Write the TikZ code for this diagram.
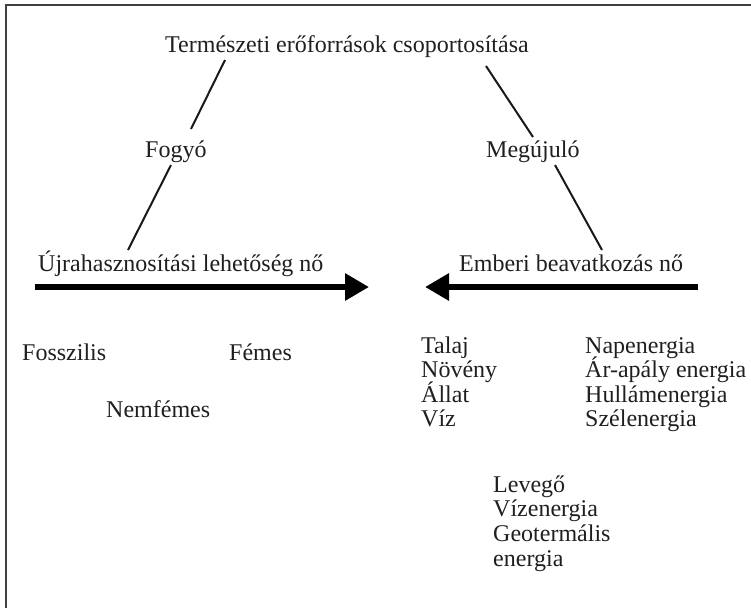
\documentclass[tikz,border=0pt]{standalone}
\usepackage{fontspec}
\setmainfont{Liberation Serif}
\usetikzlibrary{arrows.meta,calc}
\begin{document}
\begin{tikzpicture}[x=1pt,y=-1pt,
  lbl/.style={anchor=base west,inner sep=0pt,font=\fontsize{24}{28}\selectfont,text=black!88},
  conn/.style={line width=2pt,draw=black!90},
  bigarrow/.style={line width=6.5pt,draw=black,-{Triangle[length=24pt,width=26pt]}}]
\useasboundingbox (0,0) rectangle (751,608);
\draw[line width=1.5pt,black!75] (6,608) -- (6,5) -- (751,5);
% headings
\node[lbl] (title) at (165,52) {Természeti erőforrások csoportosítása};
\node[lbl] (fogyo) at (145,157) {Fogyó};
\node[lbl] (megujulo) at (486,157) {Megújuló};
\node[lbl] (ujra) at (38,271) {Újrahasznosítási lehetőség nő};
\node[lbl] (emberi) at (459,271) {Emberi beavatkozás nő};
% connectors
\draw[conn] ($(title.base west)+(60,8)$) -- ($(fogyo.base west)+(46,-28)$);
\draw[conn] ($(fogyo.base west)+(26,8)$) -- ($(ujra.base west)+(90,-21)$);
\draw[conn] ($(title.base west)+(321,14)$) -- ($(megujulo.base west)+(47,-20)$);
\draw[conn] ($(megujulo.base west)+(69,8)$) -- ($(emberi.base west)+(143,-21)$);
% arrows
\coordinate (a1s) at (35,287);
\coordinate (a1e) at (369,287);
\coordinate (a2s) at (698,287);
\coordinate (a2e) at (425,287);
\draw[bigarrow] (a1s) -- (a1e);
\draw[bigarrow] (a2s) -- (a2e);
% left group
\node[lbl] (fossz) at (22,360) {Fosszilis};
\node[lbl] (femes) at (229,360) {Fémes};
\node[lbl] (nemfemes) at (106,417) {Nemfémes};
% middle list
\node[lbl] (talaj) at (421,353) {Talaj};
\node[lbl] (noveny) at (421,377.5) {Növény};
\node[lbl] (allat) at (421,402) {Állat};
\node[lbl] (viz) at (421,426.5) {Víz};
% right list
\node[lbl] (nap) at (585,353) {Napenergia};
\node[lbl] (arapaly) at (585,377.5) {Ár-apály energia};
\node[lbl] (hullam) at (585,402) {Hullámenergia};
\node[lbl] (szel) at (585,426.5) {Szélenergia};
% bottom list
\node[lbl] (levego) at (493,492) {Levegő};
\node[lbl] (vizen) at (493,516.7) {Vízenergia};
\node[lbl] (geo) at (493,541.4) {Geotermális};
\node[lbl] (energia) at (493,566) {energia};
\end{tikzpicture}
\end{document}
